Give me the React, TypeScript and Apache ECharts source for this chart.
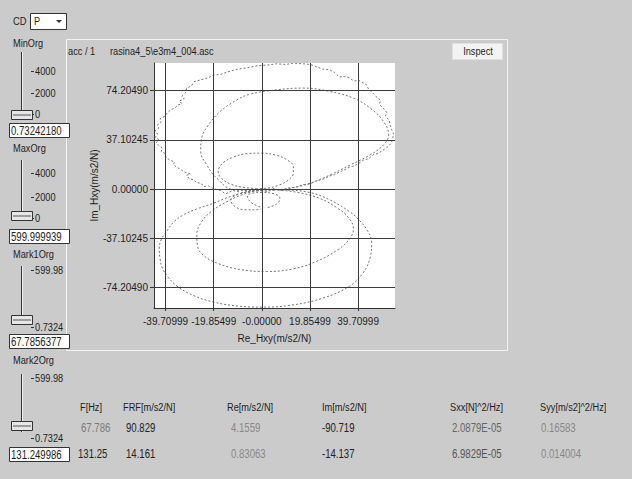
import React, { useEffect, useRef } from "react";
import * as echarts from "echarts";

const FONT = "'Liberation Sans', Arial, sans-serif";

// Axis ticks and extents
const xTicks = [-39.70999, -19.85499, 0, 19.85499, 39.70999];
const xTickLabels = ["-39.70999", "-19.85499", "-0.00000", "19.85499", "39.70999"];
const yTicks = [74.2049, 37.10245, 0, -37.10245, -74.2049];
const yTickLabels = ["74.20490", "37.10245", "0.00000", "-37.10245", "-74.20490"];
const xRange = [-44.47, 54.92];
const yRange = [-89.5, 95.1];

// Nyquist curves (Re, Im)
const noisyUpper = [
  [2, -1.5], [-3, -0.5], [-8, -2.5], [-12, -1], [-15, -3.5], [-17, -1], [-20, 0.5], [-22, 2.5], [-24, 2], [-25, 4.5],
  [-27, 5], [-28, 7], [-30, 8], [-31, 10.5], [-29.5, 11.5], [-32, 13], [-33.5, 15], [-35, 16.5], [-36.5, 18.5], [-36, 20.5],
  [-38, 22], [-39.5, 24], [-40, 27], [-41.5, 28.5], [-41, 31], [-42.5, 33], [-43.5, 35], [-42.5, 37.5], [-44, 39], [-43, 41.5],
  [-44, 44], [-42.5, 46], [-43, 48.5], [-41.5, 50.5], [-42, 53], [-40, 55], [-39, 57.5], [-37.5, 60], [-36, 61], [-34.5, 63.5],
  [-33, 64.5], [-34, 66.5], [-32, 68], [-33, 70], [-31.5, 72.5], [-31, 76], [-29, 78], [-28, 81], [-25, 82.5], [-22, 84],
  [-20, 86], [-17, 86.5], [-14, 88.5], [-10, 90.5], [-6, 91.5], [-2, 93], [2, 93.5], [6, 94.5], [10, 94], [13, 95],
  [17, 94.5], [20, 94], [23, 92], [25, 90.5], [28, 90], [30, 88], [32, 84.5], [34, 85], [36, 84], [38, 81.5],
  [40, 82], [43, 79], [44, 75.5], [45.5, 73], [47, 70], [49, 67], [48.5, 64], [50, 61], [51.5, 58], [51, 55],
  [52.5, 52], [53, 48], [53.5, 45], [54.3, 42], [54, 38.5], [53.5, 35], [52, 32], [50, 29.5], [48, 27], [46, 26],
  [44, 23], [42, 22], [40, 19.5], [38, 17.5], [36, 16.5], [34, 14.5], [32, 13], [30, 11], [28, 10], [26, 8],
  [24, 7], [22, 6], [20, 4], [17, 3.5], [14, 1.5], [11, 1], [8, -1], [5, 0.5], [2, -1.5],
];
const upperMedium = [
  [2.1, -1.3], [-6, -1], [-11.7, -0.5], [-18.6, 8.3], [-22.7, 18.3], [-25.2, 28.4], [-24.8, 38.5], [-22, 48.5],
  [-17.2, 58.5], [-10.3, 67.3], [-4.8, 71.6], [6.2, 74.9], [17.2, 76.2], [28.2, 73.6], [37.8, 68.6], [44.7, 61.1],
  [50.2, 51], [52.3, 40.9], [50.2, 33.4], [44.7, 25.9], [36.5, 18.3], [28.2, 10.8], [19.9, 4.5], [11.7, 0.75], [2.1, -1.3],
];
const upperSmall = [
  [-2, 0.5], [-8, 1.5], [-13, 4], [-16.5, 8], [-18, 13], [-16.5, 19], [-12, 24], [-6, 26.8], [0, 27.2],
  [6, 25.5], [10.5, 22], [13, 17], [13, 12], [11, 7], [7, 3], [2, 0.8], [-2, 0.5],
];
const lowerLarge = [
  [0, 0], [-6, -2], [-13, -5.5], [-20, -10.6], [-27, -15], [-32.4, -19.4], [-36.5, -25], [-39.3, -31.9], [-41.5, -38],
  [-42.3, -45], [-42, -52], [-41, -59.6], [-38.5, -66.5], [-35, -73], [-28.3, -80], [-20, -85], [-10, -88], [0, -88.8],
  [11.6, -87.5], [25.3, -82], [36.2, -73], [41.8, -63], [44.6, -52], [45.3, -40], [43.5, -31], [40, -23], [36.2, -16.9],
  [28, -8], [19.8, -2.5], [10, -0.5], [0, 0],
];
const lowerMedium = [
  [0, 0], [-8, -4], [-15, -10], [-21, -17], [-25, -25], [-26.8, -34], [-26.5, -43], [-24, -50], [-18, -56], [-9, -60.5],
  [2, -62], [13, -60], [23, -54], [31, -46], [36, -38], [37.8, -30], [36, -22], [31, -14], [24, -7], [15, -2.5], [6, -0.5], [0, 0],
];
const lowerLoopLeft = [
  [0, -1], [-5, -2], [-10, -4], [-12.8, -8], [-11.5, -12.5], [-7, -15.5], [-2, -15.5], [0.83, -14.14],
];
const lowerLoopRight = [
  [0.83, -14.14], [4, -13], [6.8, -10], [7.4, -6.5], [5, -3.5], [0, -2.5], [-4, -3], [-6, -5], [-5, -9], [-2, -12.5], [0.83, -14.14],
];

// Marker table
const tableHeaders = ["F[Hz]", "FRF[m/s2/N]", "Re[m/s2/N]", "Im[m/s2/N]", "Sxx[N]^2/Hz]", "Syy[m/s2]^2/Hz]"];
const mark1Row = ["67.786", "90.829", "4.1559", "-90.719", "2.0879E-05", "0.16583"];
const mark2Row = ["131.25", "14.161", "0.83063", "-14.137", "6.9829E-05", "0.014004"];
const markRe = [4.1559, 0.83063];
const markIm = [-90.719, -14.137];

// Left controls
const sliderNames = ["MinOrg", "MaxOrg", "Mark1Org", "Mark2Org"];
const sliderValues = ["0.73242180", "599.999939", "67.7856377", "131.249986"];
const sliderTickLabels = [["4000", "2000", "0"], ["4000", "2000", "0"], ["599.98", "0.7324"], ["599.98", "0.7324"]];

function nearestLabel(v: number, ticks: number[], labels: string[]) {
  let best = 0;
  for (let i = 1; i < ticks.length; i++) if (Math.abs(ticks[i] - v) < Math.abs(ticks[best] - v)) best = i;
  return labels[best];
}

const NARROW = 0.84;
const txt = (x: number, y: number, text: string, o: any = {}) => ({
  type: "text",
  x,
  y,
  scaleX: o.scaleX ?? NARROW,
  z: o.z ?? 10,
  style: {
    text,
    fill: o.fill ?? "#1e1e1e",
    fontSize: o.size ?? 11,
    fontFamily: FONT,
    align: o.align ?? "left",
    textAlign: o.align ?? "left",
    verticalAlign: "middle",
    textVerticalAlign: "middle",
  },
});
const rect = (x: number, y: number, w: number, h: number, fill: string, stroke: string, z = 5) => ({
  type: "rect",
  z,
  shape: { x, y, width: w, height: h },
  style: { fill, stroke, lineWidth: 1 },
});
const ln = (x1: number, y1: number, x2: number, y2: number, stroke: string, z = 5) => ({
  type: "line",
  z,
  shape: { x1, y1, x2, y2 },
  style: { stroke, lineWidth: 1 },
});

function buildGraphics() {
  const g: any[] = [];
  // chart panel frame
  g.push(rect(66.5, 39.5, 441, 311, "none", "#f2f2f2", 1));
  g.push(txt(68, 51, "acc / 1", { size: 11 }));
  g.push(txt(110, 51, "rasina4_5\\e3m4_004.asc", { size: 11 }));
  // Inspect button
  g.push(rect(452.5, 43.5, 50, 16, "#f3f3f3", "#e0e0e0"));
  g.push(txt(478, 51.5, "Inspect", { align: "center", size: 11 }));

  // CD dropdown
  g.push(txt(13, 21, "CD", { size: 11 }));
  g.push(rect(30.5, 13.5, 36, 16, "#ffffff", "#333"));
  g.push(txt(34, 21.5, "P", { size: 11 }));
  g.push({ type: "polygon", z: 6, shape: { points: [[56, 20], [62, 20], [59, 23]] }, style: { fill: "#333" } });

  // sliders
  const layout = [
    { label: 43, top: 52, bottom: 111, ticks: [71, 93, 114], thumb: 110, box: 123 },
    { label: 148, top: 160, bottom: 215, ticks: [173, 197, 218], thumb: 211, box: 229 },
    { label: 254, top: 266, bottom: 322, ticks: [270, 327], thumb: 315, box: 334 },
    { label: 360, top: 374, bottom: 432, ticks: [378, 438], thumb: 421, box: 447 },
  ];
  layout.forEach((l, i) => {
    g.push(txt(13, l.label, sliderNames[i], { size: 11 }));
    g.push(ln(21.5, l.top, 21.5, l.bottom, "#333"));
    g.push(ln(22.5, l.top, 22.5, l.bottom, "#f0f0f0"));
    sliderTickLabels[i].forEach((t, k) => {
      g.push(ln(31, l.ticks[k] + 0.5, 34, l.ticks[k] + 0.5, "#333"));
      g.push(txt(35, l.ticks[k], t, { size: 11 }));
    });
    g.push(rect(11.5, l.thumb + 0.5, 21, 9, "#e6e6e6", "#333", 7));
    g.push(ln(13, l.thumb + 5, 31, l.thumb + 5, "#555", 8));
    g.push(rect(9.5, l.box + 0.5, 60, 14, "#ffffff", "#333", 12));
    g.push(txt(11, l.box + 7.5, sliderValues[i], { size: 12, z: 13, scaleX: 0.8 }));
  });

  // marker table
  const colX = [80, 123, 227, 322, 450, 540];
  const valX = [81, 126, 231, 322, 452, 541];
  const row1Fill = ["#7a7a7a", "#222", "#888", "#222", "#666", "#888"];
  const row2Fill = ["#222", "#222", "#888", "#222", "#555", "#888"];
  tableHeaders.forEach((h, i) => g.push(txt(colX[i], 407, h, { size: 11 })));
  mark1Row.forEach((v, i) => g.push(txt(valX[i], 428, v, { size: 12, fill: row1Fill[i], scaleX: 0.8 })));
  mark2Row.forEach((v, i) => g.push(txt(valX[i] - (i === 0 ? 3 : 0), 454, v, { size: 12, fill: row2Fill[i], scaleX: 0.8 })));
  return g;
}

const curveStyle = { color: "#747474", width: 1, type: [2, 2] as any };
const curve = (data: number[][], smooth: boolean | number) => ({
  type: "line",
  data,
  symbol: "none",
  showSymbol: false,
  smooth,
  z: 3,
  silent: true,
  lineStyle: curveStyle,
});

export default function App() {
  const ref = useRef<HTMLDivElement>(null);
  useEffect(() => {
    if (!ref.current) return;
    const chart = echarts.init(ref.current, undefined, { renderer: "svg" });
    const axisText = { color: "#1e1e1e", fontSize: 10, fontFamily: FONT };
    chart.setOption({
      animation: false,
      backgroundColor: "#cbcbcb",
      grid: { left: 154, top: 63, width: 241, height: 245, show: true, backgroundColor: "#ffffff", borderWidth: 0 },
      xAxis: {
        type: "value",
        min: xRange[0],
        max: xRange[1],
        name: "Re_Hxy(m/s2/N)",
        nameLocation: "middle",
        nameGap: 25,
        nameTextStyle: axisText,
        axisLine: { show: true, onZero: false, lineStyle: { color: "#333", width: 1 } },
        axisTick: { show: true, customValues: xTicks, length: 3, lineStyle: { color: "#333" } },
        axisLabel: {
          customValues: xTicks,
          interval: 0,
          hideOverlap: false,
          showMinLabel: true,
          showMaxLabel: true,
          margin: 8,
          ...axisText,
          formatter: (v: number) => nearestLabel(v, xTicks, xTickLabels),
        },
        splitLine: { show: false },
      },
      yAxis: {
        type: "value",
        min: yRange[0],
        max: yRange[1],
        name: "Im_Hxy(m/s2/N)",
        nameLocation: "middle",
        nameGap: 52,
        nameTextStyle: axisText,
        axisLine: { show: true, onZero: false, lineStyle: { color: "#333", width: 1 } },
        axisTick: { show: true, customValues: yTicks, length: 4, lineStyle: { color: "#333" } },
        axisLabel: {
          customValues: yTicks,
          interval: 0,
          hideOverlap: false,
          margin: 6,
          ...axisText,
          formatter: (v: number) => nearestLabel(v, yTicks, yTickLabels),
        },
        splitLine: { show: false },
      },
      graphic: buildGraphics(),
      series: [
        {
          type: "line",
          data: [],
          z: 1,
          silent: true,
          markLine: {
            silent: true,
            symbol: ["none", "none"],
            label: { show: false },
            lineStyle: { color: "#3c3c3c", width: 1, type: "solid" },
            data: [...xTicks.map((v) => ({ xAxis: v })), ...yTicks.map((v) => ({ yAxis: v }))],
          },
        },
        curve(noisyUpper, false),
        curve(upperMedium, 0.4),
        curve(upperSmall, 0.4),
        curve(lowerLarge, 0.4),
        curve(lowerMedium, 0.4),
        curve(lowerLoopLeft, 0.4),
        curve(lowerLoopRight, 0.4),
        {
          type: "scatter",
          data: markRe.map((re, i) => [re, markIm[i]]),
          symbol: "emptyCircle",
          symbolSize: 5,
          z: 4,
          itemStyle: { color: "#ffffff", borderColor: "#444", borderWidth: 1 },
        },
      ],
    });
    return () => chart.dispose();
  }, []);
  return (
    <div style={{ position: "fixed", left: 0, top: 0, width: 632, height: 479, background: "#cbcbcb" }}>
      <div ref={ref} style={{ width: 632, height: 479 }} />
    </div>
  );
}
